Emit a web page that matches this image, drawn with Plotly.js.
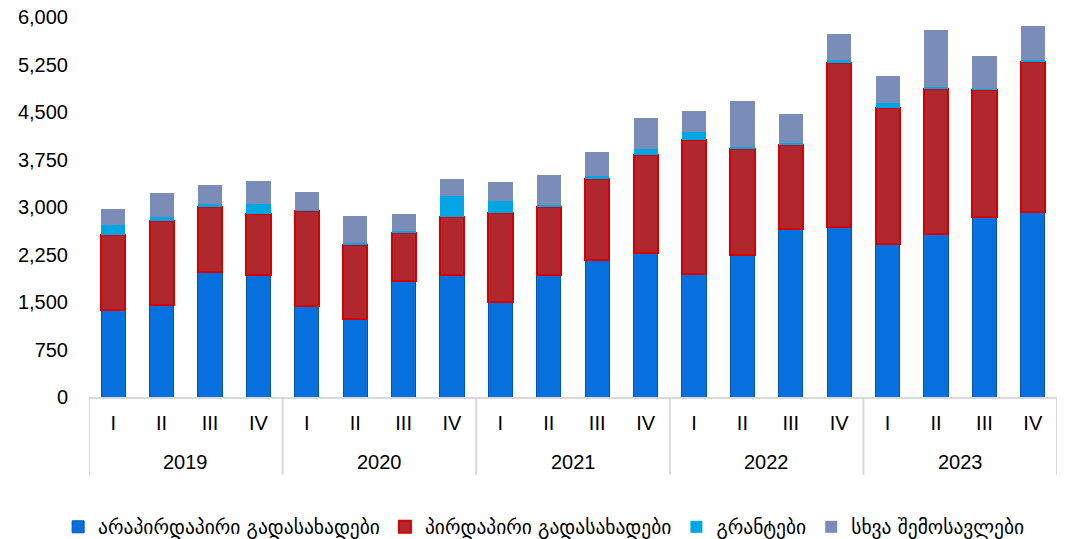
<!DOCTYPE html>
<html>
<head>
<meta charset="utf-8">
<script src="https://cdn.plot.ly/plotly-3.0.1.min.js"></script>
<style>
  html, body { margin: 0; padding: 0; background: #fff; }
  #chart { width: 1069px; height: 539px; }
</style>
</head>
<body>
<div id="chart"></div>
<script>
const years = ["2019","2019","2019","2019","2020","2020","2020","2020","2021","2021","2021","2021","2022","2022","2022","2022","2023","2023","2023","2023"];
const quarters = ["I","II","III","IV","I","II","III","IV","I","II","III","IV","I","II","III","IV","I","II","III","IV"];

const indirectTaxes = [1366,1445,1967,1920,1434,1229,1830,1920,1498,1920,2167,2273,1940,2246,2647,2679,2410,2573,2837,2921];
const directTaxes   = [1187,1338,1033,974,1508,1170,764,927,1412,1085,1276,1554,2115,1667,1329,2594,2151,2288,2009,2367];
const grants        = [165,59,52,158,15,32,27,332,190,31,52,90,131,41,41,41,84,26,25,37];
const otherRevenue  = [253,379,296,359,275,427,268,264,295,470,375,491,332,722,454,422,427,912,517,538];

const seriesNames = ["არაპირდაპირი გადასახადები","პირდაპირი გადასახადები","გრანტები","სხვა შემოსავლები"];
const yTicks = [0,750,1500,2250,3000,3750,4500,5250,6000];

// category positions on the axis (one slot per quarter)
const xIdx = quarters.map((q, i) => i);

const traces = [
  {type:"bar", x:xIdx, y:indirectTaxes, name:seriesNames[0],
   marker:{color:"#0670DE", line:{color:"#0453AE", width:1}}},
  {type:"bar", x:xIdx, y:directTaxes, name:seriesNames[1],
   marker:{color:"#B0282D", line:{color:"#D60000", width:2}}},
  {type:"bar", x:xIdx, y:grants, name:seriesNames[2],
   marker:{color:"#00A6E4", line:{width:0}}},
  {type:"bar", x:xIdx, y:otherRevenue, name:seriesNames[3],
   marker:{color:"#7A8DB8", line:{width:0}}}
];

// year groups: label annotations and divider lines
const groups = [];
years.forEach((y, i) => {
  const g = groups[groups.length - 1];
  if (g && g.year === y) g.end = i; else groups.push({year:y, start:i, end:i});
});
const annotations = groups.map(g => ({
  x:(g.start + g.end) / 2, xref:"x", y:-0.171, yref:"paper",
  text:g.year, showarrow:false, xanchor:"center", yanchor:"middle",
  font:{family:"Liberation Sans, Arial, sans-serif", size:20, color:"#000"}
}));
const bounds = [groups[0].start - 0.5].concat(groups.map(g => g.end + 0.5));
const shapes = bounds.map(b => ({
  type:"line", xref:"x", yref:"paper", x0:b, x1:b, y0:0, y1:-0.205,
  line:{color:"#D9D9D9", width:2}
}));

const layout = {
  width:1069, height:539,
  margin:{l:89, r:12, t:17, b:142, autoexpand:false},
  barmode:"stack",
  bargap:0.5,
  paper_bgcolor:"#fff", plot_bgcolor:"#fff",
  font:{family:"Liberation Sans, Arial, DejaVu Sans, sans-serif", size:20, color:"#000"},
  showlegend:true,
  legend:{orientation:"h", xref:"container", x:0.509, xanchor:"center",
          yref:"container", y:0.022, yanchor:"middle",
          font:{family:"DejaVu Sans, sans-serif", size:19.5, color:"#000"},
          traceorder:"normal", itemwidth:30},
  xaxis:{range:[-0.5, xIdx.length - 0.5], tickvals:xIdx, ticktext:quarters,
         showline:true, linecolor:"#D9D9D9", linewidth:2, automargin:false,
         showgrid:false, zeroline:false, ticks:"outside", ticklen:7,
         tickcolor:"rgba(0,0,0,0)", tickfont:{size:20}},
  yaxis:{range:[0,6000], tickvals:yTicks, tickformat:",d", showgrid:false, automargin:false,
         zeroline:false, showline:false, ticks:"outside", ticklen:16,
         tickcolor:"rgba(0,0,0,0)", tickfont:{size:20}},
  annotations:annotations,
  shapes:shapes
};

Plotly.newPlot("chart", traces, layout, {displayModeBar:false, staticPlot:true});
</script>
</body>
</html>
